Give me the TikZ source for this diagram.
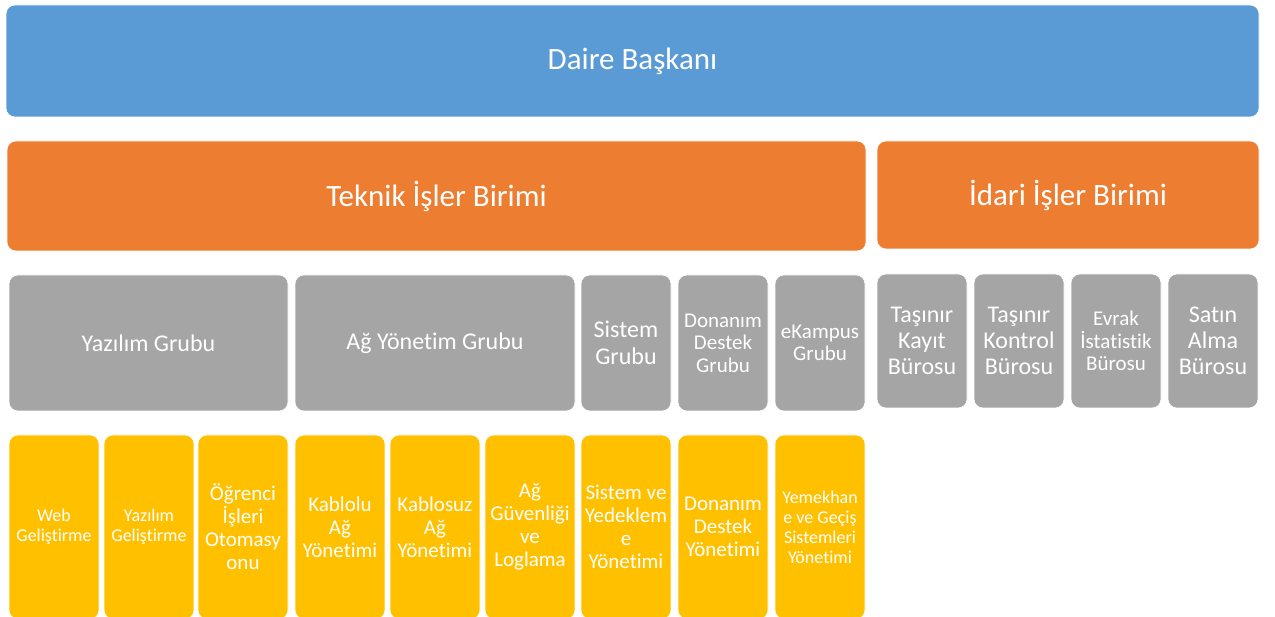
\documentclass[tikz,border=0pt]{standalone}
\usepackage{fontspec}
\setmainfont{Carlito}[Ligatures=NoCommon]
\usepackage{xcolor}
\definecolor{chiefblue}{HTML}{5B9BD5}
\definecolor{unitorange}{HTML}{ED7D31}
\definecolor{groupgray}{HTML}{A5A5A5}
\definecolor{taskyellow}{HTML}{FFC000}
\begin{document}
\begin{tikzpicture}[x=1pt,y=-1pt]
				    \tikzstyle{box}=[draw=white,line width=.6pt,rounded corners=9pt,text=white,align=center,inner sep=1pt,outer sep=0pt]
				    \tikzstyle{chief}=[box,fill=chiefblue,font=\fontsize{31}{36}\selectfont]
				    \tikzstyle{unit}=[box,fill=unitorange,font=\fontsize{31}{36}\selectfont]
				    \tikzstyle{group}=[box,fill=groupgray,minimum height=136pt,font=\fontsize{24}{26.5}\selectfont]
				    \tikzstyle{bureau}=[box,fill=groupgray,minimum width=90pt,minimum height=134pt,font=\fontsize{24}{26}\selectfont]
				    \tikzstyle{task}=[box,fill=taskyellow,minimum width=90pt,minimum height=184pt,font=\fontsize{21}{23}\selectfont]
				    \tikzstyle{small}=[font=\fontsize{21}{22.5}\selectfont]
				    \tikzstyle{tiny}=[font=\fontsize{18}{20}\selectfont]
				    \useasboundingbox (0,0) rectangle (1275,617);
				    \clip (0,0) rectangle (1275,617);
				    \node[chief,minimum width=1253pt,minimum height=112pt] (daire) at (632.5,61) {Daire Başkanı};
				    \node[unit,minimum width=859pt,minimum height=110pt] (teknik) at (436.5,196) {Teknik İşler Birimi};
				    \node[unit,minimum width=382pt,minimum height=108pt] (idari) at (1068,195) {İdari İşler Birimi};
				    \node[group,minimum width=279pt] (yazilim) at (148.5,343) {Yazılım Grubu};
				    \node[group,minimum width=280pt] (ag) at (435,343) {Ağ Yönetim Grubu};
				    \node[group,minimum width=90pt] (sistem) at (626,343) {Sistem\\Grubu};
				    \node[group,small,minimum width=90pt] (donanim) at (723,343) {Donanım\\Destek\\Grubu};
				    \node[group,small,minimum width=90pt] (ekampus) at (820,343) {eKampus\\Grubu};
				    \node[bureau] (kayit) at (922,341) {Taşınır\\Kayıt\\Bürosu};
				    \node[bureau] (kontrol) at (1019,341) {Taşınır\\Kontrol\\Bürosu};
				    \node[bureau,small] (evrak) at (1116,341) {Evrak\\İstatistik\\Bürosu};
				    \node[bureau] (satin) at (1213,341) {Satın\\Alma\\Bürosu};
				    \node[task,tiny] (web) at (54,527) {Web\\Geliştirme};
				    \node[task,tiny] (yazgel) at (149,527) {Yazılım\\Geliştirme};
				    \node[task] (ogrenci) at (243,527) {Öğrenci\\İşleri\\Otomasy\\onu};
				    \node[task] (kablolu) at (340,527) {Kablolu\\Ağ\\Yönetimi};
				    \node[task] (kablosuz) at (435,527) {Kablosuz\\Ağ\\Yönetimi};
				    \node[task] (guvenlik) at (530,527) {Ağ\\Güvenliği\\ve\\Loglama};
				    \node[task] (yedek) at (626,527) {Sistem ve\\Yedeklem\\e\\Yönetimi};
				    \node[task] (donyon) at (723,527) {Donanım\\Destek\\Yönetimi};
				    \node[task,tiny] (yemek) at (820,527) {Yemekhan\\e ve Geçiş\\Sistemleri\\Yönetimi};
				\end{tikzpicture}
\end{document}
